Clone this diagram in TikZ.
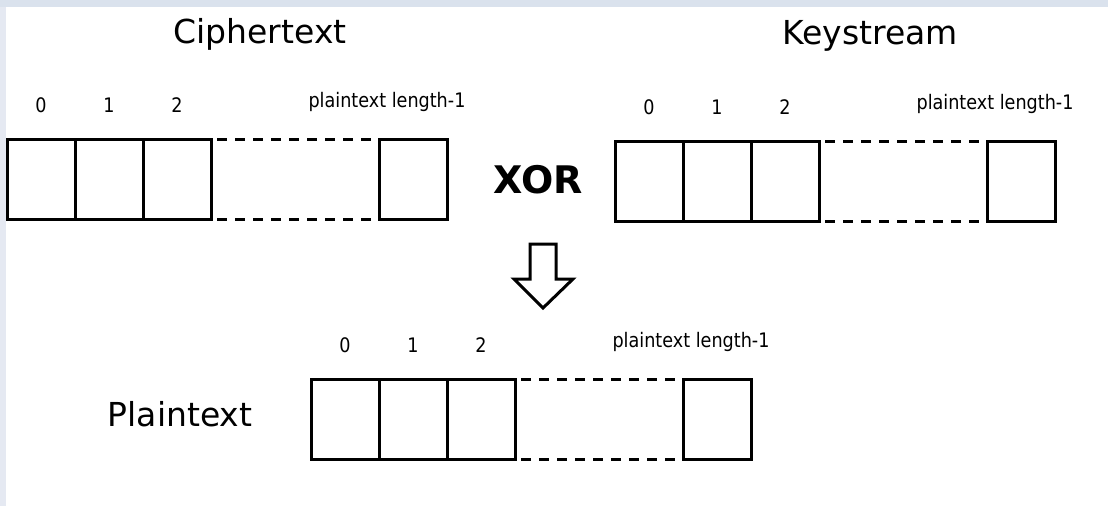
\documentclass[tikz,border=0pt]{standalone}
\usepackage{fontspec}
\setmainfont{DejaVu Sans}
\newfontfamily\narrowfont[FakeStretch=0.88]{DejaVu Sans}

\definecolor{edgeband}{RGB}{218,226,237}
\definecolor{sideband}{RGB}{229,233,242}

\tikzset{
  cell/.style={draw, line width=3pt, minimum width=68pt, minimum height=80pt,
               inner sep=0pt, outer sep=0pt},
  gapline/.style={line width=3pt, dash pattern=on 10pt off 8pt},
  idx/.style={font=\narrowfont\fontsize{20}{24}\selectfont, inner sep=0pt, anchor=base},
  title/.style={font=\fontsize{33}{38}\selectfont, inner sep=0pt, anchor=base},
  opname/.style={font=\fontsize{38}{44}\selectfont\bfseries, inner sep=0pt, anchor=base},
  blockarrow/.style={draw, line width=3pt, fill=white, line join=miter},
}

% A byte array: three cells, a dashed gap, the last cell, with index labels.
% #1 = name prefix, #2 = left x, #3 = top y
\newcommand\bytearray[3]{%
  \foreach \i in {0,1,2} {
    \node[cell, anchor=north west] (#1\i) at ({#2+68*\i}, #3) {};
    \node[idx] (#1n\i) at ({#2+34+68*\i}, {#3-27}) {\i};
  }
  \node[cell, anchor=north west] (#1L) at ({#2+372}, #3) {};
  \node[idx] (#1nL) at ({#2+380}, {#3-32}) {plaintext length-1};
  \draw[gapline] ([xshift=6pt]#12.north east) -- (#1L.north west);
  \draw[gapline] ([xshift=6pt]#12.south east) -- (#1L.south west);
}

\begin{document}
\begin{tikzpicture}[x=1pt, y=-1pt]
  \useasboundingbox (0,0) rectangle (1108,506);
  \fill[white] (0,0) rectangle (1108,506);
  \fill[sideband] (0,0) rectangle (6,506);
  \fill[edgeband] (0,0) rectangle (1108,7);

  % inputs
  \node[title] (ctitle) at (260,43) {Ciphertext};
  \bytearray{c}{7}{139}

  \node[title] (ktitle) at (870,44) {Keystream};
  \bytearray{k}{615}{141}

  \node[opname] (xor) at (538,193) {XOR};

  % result arrow
  \draw[blockarrow] (530,244) -- (556,244) -- (556,279) -- (573,279)
      -- (543,308) -- (514,279) -- (530,279) -- cycle;

  % output
  \node[title] (ptitle) at (180,426) {Plaintext};
  \bytearray{p}{311}{379}
\end{tikzpicture}
\end{document}
